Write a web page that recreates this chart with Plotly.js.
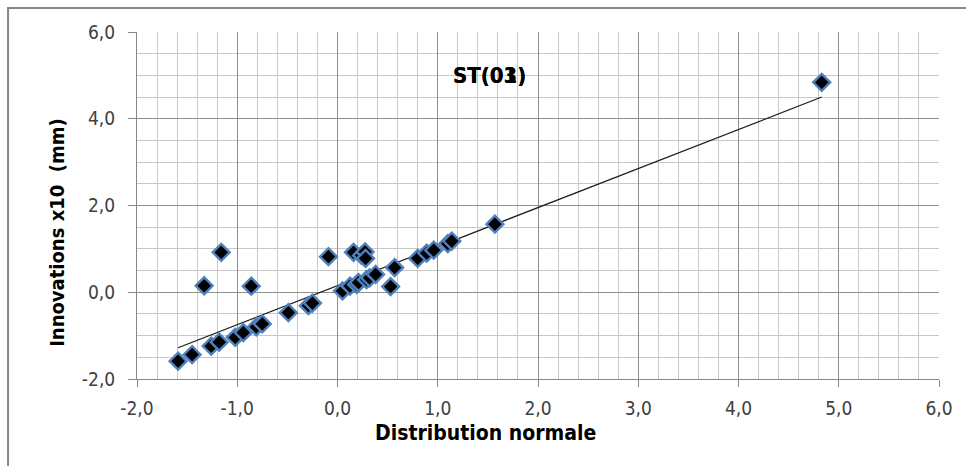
<!DOCTYPE html>
<html>
<head>
<meta charset="utf-8">
<script src="https://cdn.plot.ly/plotly-3.0.1.min.js"></script>
<style>html,body{margin:0;padding:0;background:#fff;}#chart{width:966px;height:466px;}</style>
</head>
<body>
<div id="chart"></div>
<script>
// Data
const normalQuantiles = [-1.59, -1.45, -1.33, -1.26, -1.18, -1.16, -1.02, -0.94, -0.86, -0.81, -0.75,
  -0.49, -0.29, -0.25, -0.09, 0.05, 0.125, 0.16, 0.19, 0.21, 0.24, 0.275, 0.28, 0.29, 0.32, 0.38,
  0.53, 0.57, 0.80, 0.89, 0.96, 1.10, 1.14, 1.57, 4.83];
const innovations = [-1.59, -1.44, 0.15, -1.24, -1.15, 0.92, -1.04, -0.93, 0.14, -0.80, -0.73,
  -0.47, -0.31, -0.25, 0.82, 0.03, 0.14, 0.92, 0.18, 0.22, 0.85, 0.93, 0.78, 0.29, 0.33, 0.41,
  0.13, 0.57, 0.78, 0.90, 0.97, 1.12, 1.18, 1.57, 4.84];
const trendX = [-1.59, 4.83];
const trendY = [-1.28, 4.50];
const xTicks = [-2, -1, 0, 1, 2, 3, 4, 5, 6];
const yTicks = [-2, 0, 2, 4, 6];
const titleA = 'ST(03)';
const titleB = 'ST(01)';

const fmt = v => v.toFixed(1).replace('.', ',');
const fam = '"DejaVu Sans Condensed", "DejaVu Sans", sans-serif';
const tickFont = {family: fam, size: 19, color: '#404040'};
const boldFont = {family: fam, size: 21, color: '#000', weight: 'bold'};
const yTitleFont = {family: fam, size: 20, color: '#000', weight: 'bold'};
const titleFont = {family: fam, size: 22, color: '#000', weight: 'bold'};

const traces = [
  {x: trendX, y: trendY, mode: 'lines', line: {color: '#1a1a1a', width: 1.2}, hoverinfo: 'skip', showlegend: false},
  {x: normalQuantiles, y: innovations, mode: 'markers', showlegend: false,
   marker: {symbol: 'diamond', size: 13, color: '#000', line: {color: '#4F81BD', width: 2.4}}}
];

const layout = {
  width: 966, height: 466,
  margin: {l: 137, r: 27, t: 32, b: 87},
  paper_bgcolor: '#fff', plot_bgcolor: '#fff',
  showlegend: false,
  xaxis: {range: [-2, 6], tickvals: xTicks, ticktext: xTicks.map(fmt), showgrid: true, gridcolor: '#8f8f8f', gridwidth: 1,
    minor: {dtick: 0.2, showgrid: true, gridcolor: '#c8c8c8', gridwidth: 1},
    zeroline: false, showline: true, linecolor: '#868686', linewidth: 1,
    ticks: 'outside', ticklen: 7, tickcolor: '#868686', tickfont: tickFont, ticklabelstandoff: 5, fixedrange: true},
  yaxis: {range: [-2, 6], tickvals: yTicks, ticktext: yTicks.map(fmt), showgrid: true, gridcolor: '#8f8f8f', gridwidth: 1,
    minor: {dtick: 0.5, showgrid: true, gridcolor: '#c8c8c8', gridwidth: 1},
    zeroline: false, showline: true, linecolor: '#868686', linewidth: 1,
    ticks: 'outside', ticklen: 8, tickcolor: '#868686', tickfont: tickFont, ticklabelstandoff: 9, fixedrange: true},
  annotations: [
    {text: 'Distribution normale', xref: 'paper', yref: 'paper', x: 0.434, y: -0.156, xanchor: 'center', yanchor: 'middle', showarrow: false, font: boldFont},
    {text: 'Innovations x10  (mm)', xref: 'paper', yref: 'paper', x: -0.0998, y: 0.424, xanchor: 'center', yanchor: 'middle', textangle: -90, showarrow: false, font: yTitleFont},
    {text: titleA, xref: 'paper', yref: 'paper', x: 0.439, y: 0.876, xanchor: 'center', yanchor: 'middle', showarrow: false, font: titleFont},
    {text: titleB, xref: 'paper', yref: 'paper', x: 0.439, y: 0.876, xanchor: 'center', yanchor: 'middle', showarrow: false, font: titleFont}
  ],
  shapes: [
    {type: 'rect', xref: 'paper', yref: 'paper', x0: -0.1608, x1: 1.06, y0: -0.3, y1: 1.069, line: {color: '#868686', width: 2}, fillcolor: 'rgba(0,0,0,0)', layer: 'below'}
  ]
};

Plotly.newPlot('chart', traces, layout, {displayModeBar: false, staticPlot: true});
</script>
</body>
</html>
